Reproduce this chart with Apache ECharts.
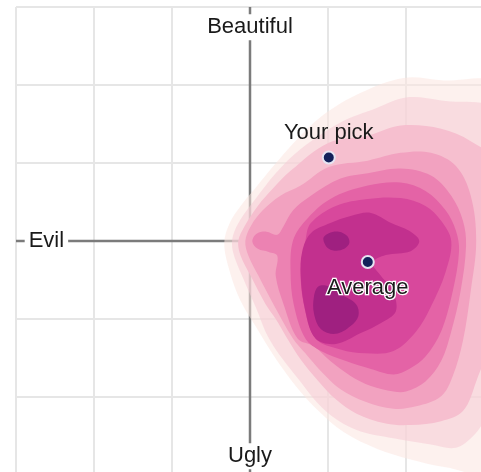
<!DOCTYPE html>
<html><head><meta charset="utf-8">
<script src="https://cdn.jsdelivr.net/npm/echarts@6/dist/echarts.min.js"></script>
<style>html,body{margin:0;padding:0;background:#fff}#c{width:481px;height:472px}</style>
</head><body><div id="c"></div>
<script>
// ---- data (chart units: -3 .. 3 on both axes) ----
const axisMin = -3, axisMax = 3, axisStep = 1;
const poleNames = ['Beautiful', 'Evil', 'Ugly'];
const polePositions = [[0, 2.74], [-2.61, 0], [0, -2.76]];
const pointNames = ['Your pick', 'Average'];
const pointValues = [[1.01, 1.07], [1.51, -0.27]];
const evilAxis = [[-3, 0], [0, 0]];
const beautyAxis = [[0, -3], [0, 3]];

// density contour levels, outermost first
const level1 = [[1.42,1.90],[1.97,2.09],[2.45,2.06],[3.2,1.98],[3.2,0],[3.2,-2.96],[2.51,-2.90],[2.06,-2.80],[1.64,-2.67],[1.20,-2.45],[0.88,-2.18],[0.62,-1.90],[0.35,-1.54],[0.07,-1.09],[-0.12,-0.77],[-0.26,-0.39],[-0.33,-0.03],[-0.26,0.23],[-0.12,0.45],[0.07,0.68],[0.30,0.96],[0.58,1.28],[0.93,1.61]];
const level2 = [[0.65,1.18],[1.16,1.52],[1.61,1.70],[2.00,1.84],[2.45,1.80],[3.2,1.64],[3.2,0],[3.1,-1.9],[3.0,-2.3],[2.86,-2.50],[2.64,-2.65],[2.32,-2.61],[1.84,-2.53],[1.36,-2.42],[0.97,-2.18],[0.62,-1.77],[0.26,-1.28],[0.07,-0.84],[-0.10,-0.45],[-0.22,-0.13],[-0.22,0.06],[-0.12,0.28],[0.07,0.54],[0.33,0.87]];
const level3 = [[0.52,0.90],[1.01,1.26],[1.51,1.35],[1.93,1.48],[2.45,1.44],[2.83,1.28],[3.1,1.03],[3.1,-1.16],[2.90,-1.80],[2.73,-2.18],[2.45,-2.31],[2.06,-2.36],[1.74,-2.34],[1.36,-2.21],[1.10,-2.03],[0.88,-1.80],[0.65,-1.52],[0.46,-1.22],[0.33,-1.00],[0.20,-0.81],[0.01,-0.45],[-0.12,-0.19],[-0.15,0],[-0.07,0.19],[0.10,0.45],[0.29,0.67]];
const level4 = [[0.65,0.71],[1.01,0.95],[1.51,1.03],[1.93,1.13],[2.32,1.13],[2.64,0.96],[2.83,0.58],[2.90,0],[2.83,-0.64],[2.73,-1.28],[2.60,-1.73],[2.45,-1.99],[2.13,-2.12],[1.84,-2.15],[1.48,-2.06],[1.16,-1.90],[0.91,-1.67],[0.71,-1.44],[0.55,-1.25],[0.30,-0.81],[0.11,-0.45],[-0.02,-0.19],[-0.06,0],[0.01,0.19],[0.16,0.39],[0.39,0.58]];
const level5 = [[0.78,0.58],[1.16,0.80],[1.51,0.87],[1.93,0.93],[2.32,0.84],[2.58,0.58],[2.73,0.26],[2.77,-0.06],[2.70,-0.64],[2.58,-1.16],[2.45,-1.54],[2.25,-1.80],[2.00,-1.93],[1.84,-1.93],[1.55,-1.86],[1.29,-1.73],[1.03,-1.54],[0.82,-1.35],[0.61,-1.25],[0.43,-0.81],[0.33,-0.45],[0.35,-0.19],[0.24,-0.14],[0.10,-0.10],[0.03,-0.01],[0.08,0.09],[0.21,0.12],[0.35,0.08],[0.43,0.19],[0.55,0.39]];
const level6 = [[0.71,0.26],[1.03,0.54],[1.51,0.71],[1.93,0.75],[2.25,0.64],[2.51,0.39],[2.64,0.13],[2.68,-0.13],[2.60,-0.64],[2.45,-1.16],[2.25,-1.48],[2.04,-1.64],[1.84,-1.71],[1.55,-1.64],[1.23,-1.54],[0.91,-1.41],[0.71,-1.25],[0.56,-0.81],[0.52,-0.39],[0.55,0]];
const level7 = [[0.78,0.23],[1.10,0.45],[1.51,0.54],[1.93,0.55],[2.25,0.45],[2.45,0.26],[2.58,0],[2.51,-0.39],[2.32,-0.84],[2.13,-1.16],[1.84,-1.41],[1.48,-1.44],[1.16,-1.39],[0.84,-1.25],[0.69,-0.81],[0.65,-0.39],[0.71,0]];
const level8 = [[0.78,0.10],[1.03,0.23],[1.29,0.32],[1.55,0.36],[1.81,0.23],[2.04,0.13],[2.17,0],[2.06,-0.13],[1.74,-0.18],[1.57,-0.28],[1.68,-0.45],[1.83,-0.64],[1.87,-0.90],[1.68,-1.05],[1.42,-1.18],[1.10,-1.32],[0.84,-1.25],[0.71,-0.90],[0.65,-0.45],[0.67,-0.13]];
const level9a = [[0.94,0.03],[1.01,0.10],[1.14,0.12],[1.25,0.06],[1.27,-0.04],[1.16,-0.12],[1.01,-0.10]];
const level9b = [[0.82,-0.71],[0.88,-0.58],[1.01,-0.58],[1.16,-0.68],[1.36,-0.81],[1.39,-0.96],[1.29,-1.09],[1.10,-1.19],[0.91,-1.13],[0.82,-0.93]];

const contours = [level1, level2, level3, level4, level5, level6, level7, level8, level9a, level9b];
const contourColors = ['#fbe6e0','#f6cad5','#f6bfcf','#f2a2c0','#ec82b2','#e463a6','#d8489c','#c2308e','#9f2080','#9f2080'];
const contourOpacity = [0.55, 0.55, 1, 1, 1, 1, 1, 1, 1, 1];

// ---- build chart ----
const font = '"Liberation Sans", Arial, sans-serif';
const chart = echarts.init(document.getElementById('c'), null, {renderer: 'canvas'});

function axis() {
  return {
    type: 'value', min: axisMin, max: axisMax, interval: axisStep,
    axisLine: {show: false}, axisTick: {show: false}, axisLabel: {show: false},
    splitLine: {show: true, lineStyle: {color: '#e6e6e6', width: 2}}
  };
}

const series = [];
series.push({
  type: 'line', data: evilAxis, symbol: 'none', silent: true, z: 1,
  lineStyle: {color: '#7b7b7b', width: 2.5}
});
series.push({
  type: 'line', data: beautyAxis, symbol: 'none', silent: true, z: 1,
  lineStyle: {color: '#7b7b7b', width: 2.5}
});
contours.forEach((pts, i) => {
  series.push({
    type: 'custom', coordinateSystem: 'cartesian2d', clip: true, silent: true, z: 2 + i,
    data: pts, encode: {x: 0, y: 1},
    renderItem: function (params, api) {
      if (params.dataIndex !== 0) return null;
      const px = pts.map(p => api.coord(p));
      return {type: 'polygon', shape: {points: px, smooth: 0.35},
              style: {fill: contourColors[i], opacity: contourOpacity[i]}};
    }
  });
});
series.push({
  type: 'scatter', z: 20, silent: true, symbolSize: 1,
  itemStyle: {color: 'rgba(255,255,255,0)', opacity: 1},
  data: poleNames.map((n, i) => ({name: n, value: polePositions[i]})),
  label: {show: true, position: 'inside', formatter: '{b}', fontFamily: font, fontSize: 22,
          color: '#1a1a1a', backgroundColor: '#ffffff', padding: [2, 4], lineHeight: 22}
});
series.push({
  type: 'scatter', z: 21, silent: true, symbolSize: 12,
  itemStyle: {color: '#13215a', borderColor: '#e6e4f2', borderWidth: 2, opacity: 1},
  data: pointNames.map((n, i) => ({
    name: n, value: pointValues[i],
    label: i === 0
      ? {position: 'top', distance: 7}
      : {position: 'bottom', distance: 8, textBorderColor: '#ffffff', textBorderWidth: 2.5}
  })),
  label: {show: true, formatter: '{b}', fontFamily: font, fontSize: 22, color: '#1a1a1a',
          lineHeight: 22}
});

chart.setOption({
  animation: false,
  backgroundColor: '#ffffff',
  grid: {left: 16, top: 7, width: 468, height: 468, show: false, outerBoundsMode: 'none'},
  xAxis: axis(),
  yAxis: axis(),
  series: series
});
</script></body></html>
